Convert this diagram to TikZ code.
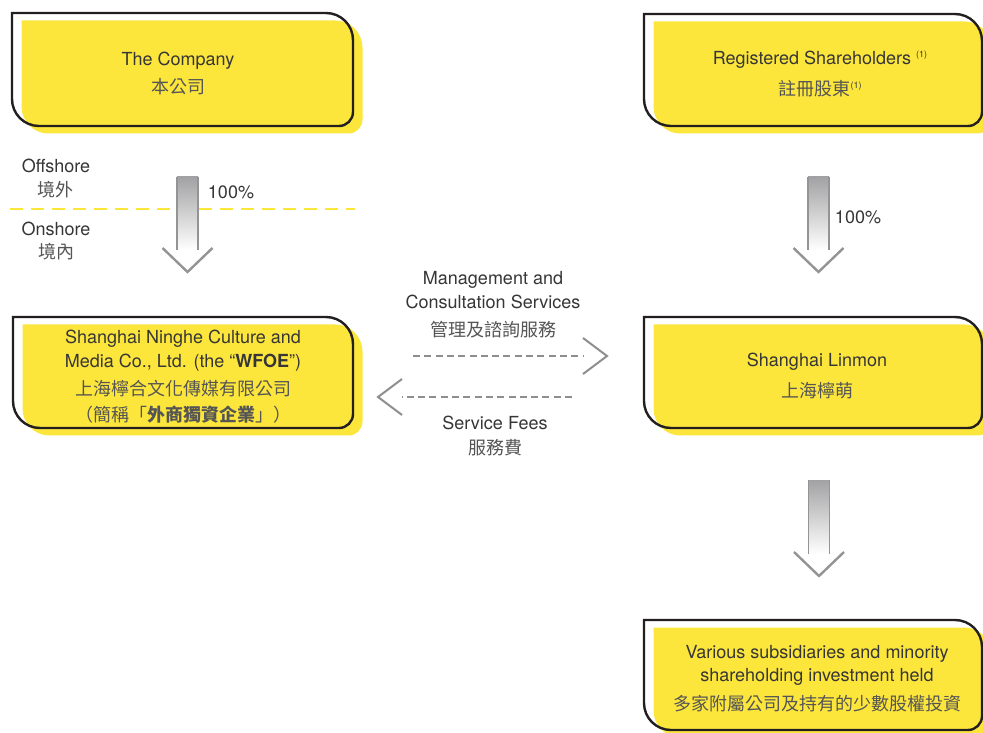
\documentclass[tikz,border=0pt]{standalone}
\usepackage{fontspec}
\setmainfont{TeX Gyre Heros}
\newfontfamily\cjk[Scale=1.0]{Noto Sans CJK TC}
\usetikzlibrary{calc}
\definecolor{boxyellow}{HTML}{FDE63C}
\definecolor{outlinec}{HTML}{231F20}
\definecolor{txt}{HTML}{363636}
\definecolor{cjktxt}{HTML}{555555}
\definecolor{edgegray}{HTML}{949496}
\definecolor{shadetop}{HTML}{A2A2A4}
\definecolor{dashgray}{HTML}{8E8E8E}
\newcommand\zh[1]{{\cjk\color{cjktxt}#1}}
\newcommand\supone{\raisebox{0.75ex}{\fontsize{9}{9}\selectfont (1)}}
% box: #1 x1, #2 y1, #3 x2, #4 y2 (pixel coords, y downwards)
\newcommand\orgbox[4]{%
  \fill[boxyellow,xshift=9.5pt,yshift=-7.5pt] ({#1},{732-(#2)}) -- ({(#3)-27},{732-(#2)})
    arc[start angle=90,end angle=0,radius=27pt] -- ({#3},{732-(#4)+14})
    arc[start angle=0,end angle=-90,radius=14pt] -- ({(#1)+27},{732-(#4)})
    arc[start angle=270,end angle=180,radius=27pt] -- cycle;
  \draw[outlinec,line width=2.4pt] ({#1},{732-(#2)}) -- ({(#3)-27},{732-(#2)})
    arc[start angle=90,end angle=0,radius=27pt] -- ({#3},{732-(#4)+14})
    arc[start angle=0,end angle=-90,radius=14pt] -- ({(#1)+27},{732-(#4)})
    arc[start angle=270,end angle=180,radius=27pt] -- cycle;
}
\newcommand\fatarrow[2]{%
  \shade[top color=shadetop,bottom color=white] ($(#1)+(-10.5,0)$) rectangle ($(#2)+(10.5,22)$);
  \draw[edgegray,line width=1.6pt] ($(#1)+(-10.5,0)$) -- ($(#2)+(-10.5,22)$);
  \draw[edgegray,line width=1.6pt] ($(#1)+(10.5,0)$) -- ($(#2)+(10.5,22)$);
  \draw[chev] ($(#2)+(-25,24)$) -- (#2) -- ($(#2)+(25,24)$);
}
\tikzset{
  lbl/.style={align=center,text=txt,inner sep=0pt,font=\fontsize{18}{23.5}\selectfont},
  chev/.style={edgegray,line width=2.4pt},
  dashline/.style={dashgray,line width=2pt,dash pattern=on 7pt off 4.3pt},
  dchev/.style={dashgray,line width=2pt},
  ydash/.style={boxyellow,line width=2.5pt,dash pattern=on 13pt off 8pt},
}
\begin{document}
\begin{tikzpicture}[x=1pt,y=1pt]
\useasboundingbox (0,0) rectangle (983,732);
\clip (0,0) rectangle (983,732);
\fill[white] (0,0) rectangle (983,732);

% boxes
\orgbox{12}{13}{353}{126}
\orgbox{644}{14}{982}{126}
\orgbox{13}{317}{353}{428}
\orgbox{644}{317}{982}{428}
\orgbox{644}{620}{982}{730}

% box texts
\node[lbl] (company) at (178,{732-73.5}) {The Company\\[5pt]\zh{本公司}};
\node[lbl] (shareholders) at (820,{732-74}) {Registered Shareholders \supone\\[8pt]\zh{註冊股東}\supone};
\node[lbl] (wfoe) at (183,{732-376.5}) {Shanghai Ninghe Culture and\\Media Co., Ltd. (the “\textbf{WFOE}”)\\[5pt]\zh{上海檸合文化傳媒有限公司}\\[2pt]\zh{（簡稱「\textbf{外商獨資企業}」）}};
\node[lbl] (linmon) at (817,{732-376.5}) {Shanghai Linmon\\[7.5pt]\zh{上海檸萌}};
\node[lbl] (subs) at (817,{732-678.5}) {Various subsidiaries and minority\\[-1pt]shareholding investment held\\[5.5pt]\zh{多家附屬公司及持有的少數股權投資}};

% offshore / onshore
\coordinate (ylineL) at (10,{732-209});
\coordinate (ylineR) at (355,{732-209});
\draw[ydash] (ylineL) -- (ylineR);
\node[lbl] (offshore) at (56,{732-178.5}) {Offshore\\\zh{境外}};
\node[lbl] (onshore) at (56,{732-241}) {Onshore\\\zh{境內}};

% fat arrows
\coordinate (a1s) at (187.5,{732-177});
\coordinate (a1e) at (187.5,{732-272});
\fatarrow{a1s}{a1e}
\node[lbl] (pct1) at (231,{732-192}) {100\%};

\coordinate (a2s) at (818.5,{732-177});
\coordinate (a2e) at (818.5,{732-272});
\fatarrow{a2s}{a2e}
\node[lbl] (pct2) at (858,{732-217}) {100\%};

\coordinate (a3s) at (819,{732-480});
\coordinate (a3e) at (819,{732-576});
\fatarrow{a3s}{a3e}

% dashed arrows
\coordinate (m1s) at (413,{732-356});
\coordinate (m1e) at (583,{732-356});
\coordinate (m1t) at (607,{732-356});
\draw[dashline] (m1s) -- (m1e);
\draw[dchev] ($(m1t)+(-24,18)$) -- (m1t) -- ($(m1t)+(-24,-18)$);

\coordinate (m2s) at (572,{732-397});
\coordinate (m2e) at (402,{732-397});
\coordinate (m2t) at (378,{732-397});
\draw[dashline] (m2s) -- (m2e);
\draw[dchev] ($(m2t)+(24,18)$) -- (m2t) -- ($(m2t)+(24,-18)$);

\node[lbl] (mgmt) at (493,{732-304.5}) {Management and\\[0.5pt]Consultation Services\\[4.5pt]\zh{管理及諮詢服務}};
\node[lbl] (fees) at (495,{732-436}) {Service Fees\\[1.5pt]\zh{服務費}};
\end{tikzpicture}
\end{document}
